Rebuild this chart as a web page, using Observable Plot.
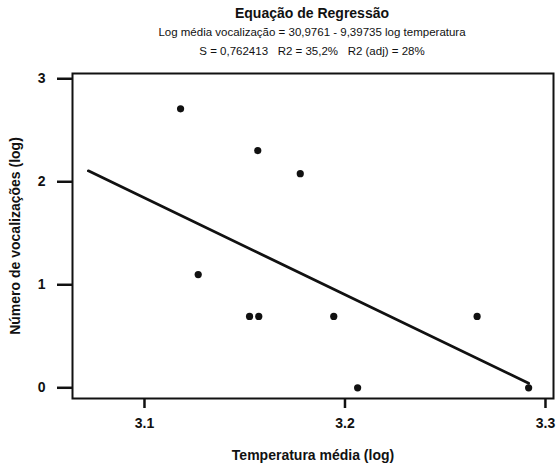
<!DOCTYPE html>
<html>
<head>
<meta charset="utf-8">
<script src="https://cdn.jsdelivr.net/npm/d3@7"></script>
<script src="https://cdn.jsdelivr.net/npm/@observablehq/plot@0.6"></script>
<style>
  body { margin: 0; background: #fff; font-family: "Liberation Sans", Arial, sans-serif; }
  #wrap { width: 556px; position: relative; }
  #head { position: relative; width: 556px; height: 65px; }
  #head div { position: absolute; left: 312px; transform: translateX(-50%); white-space: pre; color: #111; }
  .t { font-size: 14px; line-height: 14px; font-weight: bold; top: 6px; }
  .s1 { font-size: 11.5px; line-height: 11.5px; top: 27px; }
  .s2 { font-size: 11.5px; line-height: 11.5px; top: 46px; }
  svg { display: block; }
</style>
</head>
<body>
<div id="wrap">
  <div id="head"></div>
  <div id="chart"></div>
</div>
<script>
// ---- data ----
const title = "Equação de Regressão";
const subtitle1 = "Log média vocalização = 30,9761 - 9,39735 log temperatura";
const subtitle2 = "S = 0,762413   R2 = 35,2%   R2 (adj) = 28%";
const xLabel = "Temperatura média (log)";
const yLabel = "Número de vocalizações (log)";

const tempLog = [3.118, 3.1565, 3.1777, 3.1268, 3.1524, 3.157, 3.1944, 3.2659, 3.2063, 3.2916];
const vocLog  = [2.708, 2.303, 2.079, 1.099, 0.693, 0.693, 0.693, 0.693, 0, 0];

const fitX = [3.072, 3.2916];
const fitY = [2.106, 0.044];

const xTicks = [3.1, 3.2, 3.3];
const xTickLabels = ["3.1", "3.2", "3.3"];
const yTicks = [0, 1, 2, 3];
const yTickLabels = ["0", "1", "2", "3"];

// ---- header ----
const head = document.getElementById("head");
[[title, "t"], [subtitle1, "s1"], [subtitle2, "s2"]].forEach(([txt, cls]) => {
  const d = document.createElement("div");
  d.className = cls;
  d.textContent = txt;
  head.appendChild(d);
});

// ---- chart ----
const points = tempLog.map((x, i) => ({x, y: vocLog[i]}));
const fit = fitX.map((x, i) => ({x, y: fitY[i]}));
const font = "'Liberation Sans', Arial, sans-serif";

const chart = Plot.plot({
  width: 556,
  height: 401,
  marginTop: 8,
  marginBottom: 68,
  marginLeft: 72,
  marginRight: 3,
  style: {fontFamily: font, background: "#fff", color: "#111"},
  x: {domain: [3.0641, 3.304]},
  y: {domain: [-0.104, 3.051]},
  marks: [
    Plot.frame({stroke: "#111", strokeWidth: 2}),
    Plot.axisX({ticks: xTicks, tickFormat: (d, i) => xTickLabels[i], tickSize: 10, tickPadding: 10,
      strokeWidth: 2.5, fontSize: 14, fontWeight: "bold", label: null}),
    Plot.axisY({ticks: yTicks, tickFormat: (d, i) => yTickLabels[i], tickSize: 15, tickPadding: 12,
      strokeWidth: 2.5, fontSize: 14, fontWeight: "bold", label: null}),
    Plot.line(fit, {x: "x", y: "y", stroke: "#111", strokeWidth: 2.8}),
    Plot.dot(points, {x: "x", y: "y", r: 3.6, fill: "#111", stroke: "none"}),
    Plot.text([xLabel], {text: d => d, frameAnchor: "bottom", dy: 57, fontSize: 14, fontWeight: "bold", lineAnchor: "middle", fill: "#111"}),
    Plot.text([yLabel], {text: d => d, frameAnchor: "left", dx: -57, rotate: -90, fontSize: 14, fontWeight: "bold", textAnchor: "middle", lineAnchor: "middle", fill: "#111"})
  ]
});
document.getElementById("chart").appendChild(chart);
</script>
</body>
</html>
